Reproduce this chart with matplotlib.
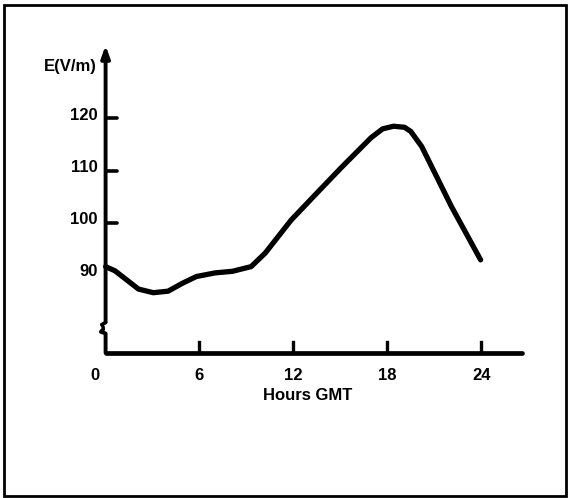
import matplotlib
matplotlib.use("Agg")
import matplotlib.pyplot as plt
from matplotlib.patches import Rectangle

hours = [0, 0.6, 1.2, 2.1, 3.05, 4.0, 4.9, 5.8, 7.0, 8.1, 9.3, 10.2, 11.85, 13.5,
         15.1, 16.96, 17.7, 18.4, 19.1, 19.5, 20.2, 22.1, 23.96]
efield = [91.6, 90.8, 89.4, 87.3, 86.6, 86.9, 88.4, 89.7, 90.4, 90.7, 91.6, 94.2,
          100.5, 105.7, 110.7, 116.3, 118.0, 118.5, 118.3, 117.5, 114.6, 103.1, 92.9]
x_ticks = [6, 12, 18, 24]
x_labels = ["0", "6", "12", "18", "24"]
y_ticks = [100, 110, 120]
y_labels = ["90", "100", "110", "120"]

plt.rcParams['font.family'] = ['Liberation Sans', 'DejaVu Sans']

fig = plt.figure(figsize=(5.71, 4.98), dpi=100)
ax = fig.add_axes([0.1575, 0.2697, 0.7812, 0.6602])
ax.set_xlim(-1, 27.5)
ax.set_ylim(73, 136)
ax.axis('off')

k = 'black'
x_axis_y = 75.1
# curve
ax.plot(hours, efield, color=k, lw=3.8, solid_capstyle='round', solid_joinstyle='round')
# y axis upper part with arrow
ax.annotate('', xy=(0, 134.0), xytext=(0, 80.9),
            arrowprops=dict(arrowstyle='-|>,head_width=0.25,head_length=0.7',
                            color=k, lw=2.8, shrinkA=0, shrinkB=0))
# break marks
ax.plot([0, -0.25, -0.15], [80.9, 80.5, 80.0], color=k, lw=2.5, solid_capstyle='round')
ax.plot([-0.15, -0.3, 0, 0], [79.6, 79.1, 78.8, x_axis_y], color=k, lw=2.8, solid_capstyle='round')
# x axis
ax.plot([0, 26.6], [x_axis_y, x_axis_y], color=k, lw=3.4, solid_capstyle='round')
# ticks
for t in x_ticks:
    ax.plot([t, t], [x_axis_y, x_axis_y + 2.0], color=k, lw=2.4)
for t in y_ticks:
    ax.plot([0, 0.7], [t, t], color=k, lw=2.6, solid_capstyle='round')

fs = 12
ax.text(-0.7, 70.7, x_labels[0], ha='center', va='center', fontsize=fs, fontweight='bold')
for t, lab in zip(x_ticks, x_labels[1:]):
    ax.text(t, 70.7, lab, ha='center', va='center', fontsize=fs, fontweight='bold')
for t, lab in zip([90] + y_ticks, y_labels):
    ax.text(-0.5, t + 0.6, lab, ha='right', va='center', fontsize=fs, fontweight='bold')
ax.text(-0.55, 129.9, "E(V/m)", ha='right', va='center', fontsize=fs, fontweight='bold')
ax.text(12.9, 66.9, "Hours GMT", ha='center', va='center', fontsize=fs, fontweight='bold')

fig.patches.append(Rectangle((4 / 571, 2 / 498), 562 / 571, 491 / 498,
                             transform=fig.transFigure, fill=False,
                             edgecolor=k, lw=2))

fig.savefig("out.png", dpi=100)
